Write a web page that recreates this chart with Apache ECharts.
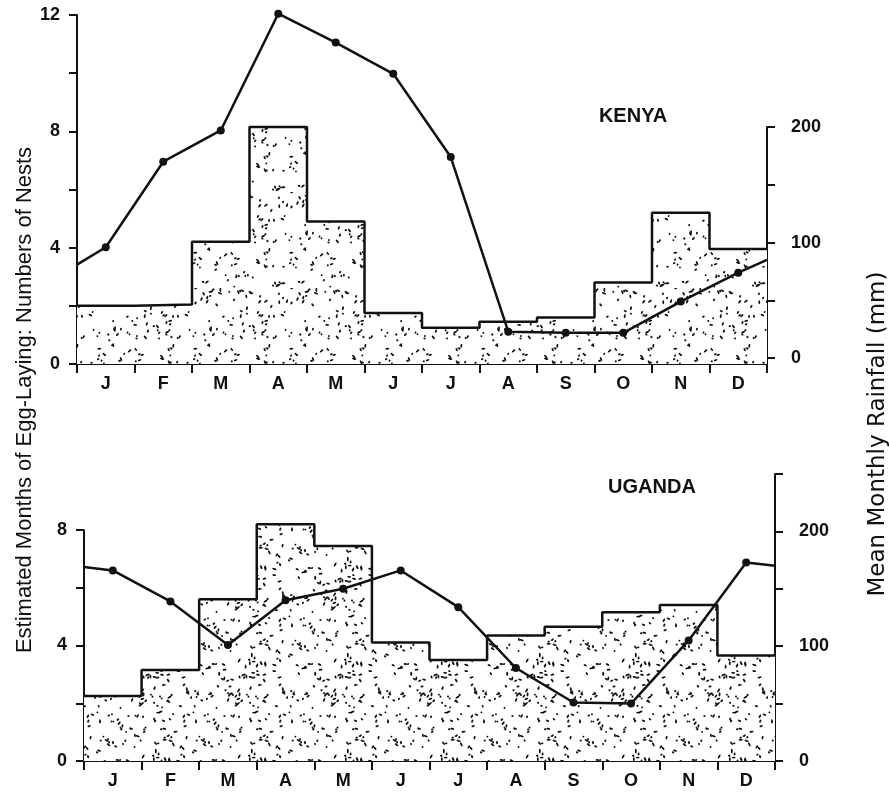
<!DOCTYPE html>
<html>
<head>
<meta charset="utf-8">
<script src="https://cdn.jsdelivr.net/npm/echarts@6/dist/echarts.min.js"></script>
<style>
  html, body { margin: 0; padding: 0; background: #fff; }
  #chart { width: 889px; height: 794px; }
</style>
</head>
<body>
<div id="chart"></div>
<script>
// ---- data ----
const months = ['J','F','M','A','M','J','J','A','S','O','N','D'];

// Estimated months of egg-laying (left axis)
const kenyaNests  = [2.0, 2.05, 4.2, 8.15, 4.9, 1.75, 1.25, 1.45, 1.6, 2.8, 5.2, 3.95];
const ugandaNests = [2.25, 3.15, 5.6, 8.2, 7.45, 4.1, 3.5, 4.35, 4.65, 5.15, 5.4, 3.65];

// Mean monthly rainfall, mm (right axis), at month centres
const kenyaRain  = [96, 170, 197, 298, 273, 246, 174, 23, 22, 22, 49, 74];
const ugandaRain = [166, 139, 101, 140, 150, 166, 134, 81, 51, 50, 105, 173];
// rainfall line where it meets the left and right axes
const kenyaRainEdges  = [81, 85];
const ugandaRainEdges = [169, 170];

// tick labels
const kenyaLeftLabels  = [0, 4, 8, 12];
const ugandaLeftLabels = [0, 4, 8];
const rightLabels      = [0, 100, 200];

// ---- helpers ----
function stepData(vals) {
  const d = vals.map((v, i) => [i, v]);
  d.push([vals.length, vals[vals.length - 1]]);
  return d;
}
function rainData(vals, edges) {
  const d = [{ value: [0, edges[0]], symbol: 'none' }];
  vals.forEach((v, i) => d.push([i + 0.5, v]));
  d.push({ value: [vals.length, edges[1]], symbol: 'none' });
  return d;
}
function makeStipple(count, seed) {
  const S = 96;
  const c = document.createElement('canvas');
  c.width = S; c.height = S;
  const ctx = c.getContext('2d');
  ctx.fillStyle = '#ffffff';
  ctx.fillRect(0, 0, S, S);
  let s = seed;
  const rnd = () => { s = (s * 16807) % 2147483647; return s / 2147483647; };
  ctx.fillStyle = '#111';
  for (let k = 0; k < count; k++) {
    const x = rnd() * S, y = rnd() * S, a = rnd() * Math.PI, len = 0.9 + rnd() * 1.4;
    ctx.save();
    ctx.translate(x, y);
    ctx.rotate(a);
    ctx.beginPath();
    ctx.ellipse(0, 0, len, 0.95, 0, 0, Math.PI * 2);
    ctx.fill();
    ctx.restore();
  }
  return c;
}
const stippleKenya = makeStipple(120, 20231);
const stippleUganda = makeStipple(150, 7741);

const FONT = "'Liberation Sans', Arial, Helvetica, sans-serif";
const black = '#111';
const axisLineStyle = { show: true, onZero: false, lineStyle: { color: black, width: 2 } };
const tickStyle = { show: true, length: 8, lineStyle: { color: black, width: 2 } };
const numLabel = { color: black, fontFamily: FONT, fontWeight: 'bold', fontSize: 18 };

function catX(grid) {
  return {
    type: 'category', gridIndex: grid, data: months, boundaryGap: true,
    axisLine: axisLineStyle,
    axisTick: { show: true, alignWithLabel: false, length: 9, lineStyle: { color: black, width: 2 } },
    axisLabel: { margin: 11, color: black, fontFamily: FONT, fontWeight: 'bold', fontSize: 18, interval: 0 },
    splitLine: { show: false }
  };
}
function hiddenX(grid, pos) {
  return { type: 'value', gridIndex: grid, min: 0, max: 12, show: false, position: pos, splitLine: { show: false } };
}

const option = {
  animation: false,
  backgroundColor: '#fff',
  textStyle: { fontFamily: FONT },
  grid: [
    { left: 77, top: 15,  width: 690, height: 349 },   // Kenya nests
    { left: 77, top: 127, width: 690, height: 237 },   // Kenya rainfall
    { left: 84, top: 530, width: 691, height: 231 },   // Uganda nests
    { left: 84, top: 474, width: 691, height: 287 }    // Uganda rainfall
  ],
  xAxis: [
    catX(0),
    hiddenX(0, 'top'),
    hiddenX(1, 'top'),
    catX(2),
    hiddenX(2, 'top'),
    hiddenX(3, 'top')
  ],
  yAxis: [
    { type: 'value', gridIndex: 0, position: 'left', min: 0, max: 12, interval: 2,
      axisLine: axisLineStyle, axisTick: tickStyle, splitLine: { show: false },
      axisLabel: Object.assign({ margin: 17, formatter: v => kenyaLeftLabels.includes(v) ? String(v) : '' }, numLabel) },
    { type: 'value', gridIndex: 1, position: 'right', min: -5, max: 200, interval: 50,
      axisLine: axisLineStyle,
      axisTick: Object.assign({ customValues: [0, 50, 100, 150, 200] }, tickStyle),
      splitLine: { show: false },
      axisLabel: Object.assign({ margin: 24, customValues: rightLabels }, numLabel) },
    { type: 'value', gridIndex: 2, position: 'left', min: 0, max: 8, interval: 2,
      axisLine: axisLineStyle, axisTick: tickStyle, splitLine: { show: false },
      axisLabel: Object.assign({ margin: 17, formatter: v => ugandaLeftLabels.includes(v) ? String(v) : '' }, numLabel) },
    { type: 'value', gridIndex: 3, position: 'right', min: 0, max: 250, interval: 50,
      axisLine: axisLineStyle, axisTick: tickStyle, splitLine: { show: false },
      axisLabel: Object.assign({ margin: 24, formatter: v => rightLabels.includes(v) ? String(v) : '' }, numLabel) }
  ],
  series: [
    { name: 'Kenya nests', type: 'line', xAxisIndex: 1, yAxisIndex: 0, step: 'end',
      data: stepData(kenyaNests), symbol: 'none', z: 2, clip: false,
      lineStyle: { color: black, width: 2.5 },
      areaStyle: { color: { image: stippleKenya, repeat: 'repeat' }, opacity: 1 } },
    { name: 'Kenya rainfall', type: 'line', xAxisIndex: 2, yAxisIndex: 1,
      data: rainData(kenyaRain, kenyaRainEdges), clip: false, z: 5,
      symbol: 'circle', symbolSize: 8, itemStyle: { color: black },
      lineStyle: { color: black, width: 2.5 } },
    { name: 'Uganda nests', type: 'line', xAxisIndex: 4, yAxisIndex: 2, step: 'end',
      data: stepData(ugandaNests), symbol: 'none', z: 2, clip: false,
      lineStyle: { color: black, width: 2.5 },
      areaStyle: { color: { image: stippleUganda, repeat: 'repeat' }, opacity: 1 } },
    { name: 'Uganda rainfall', type: 'line', xAxisIndex: 5, yAxisIndex: 3,
      data: rainData(ugandaRain, ugandaRainEdges), clip: false, z: 5,
      symbol: 'circle', symbolSize: 8, itemStyle: { color: black },
      lineStyle: { color: black, width: 2.5 } }
  ],
  graphic: [
    { type: 'text', x: 25, y: 400, rotation: Math.PI / 2,
      style: { text: 'Estimated Months of Egg-Laying: Numbers of Nests', fill: black,
               font: "22px 'Liberation Sans', Arial, sans-serif", textAlign: 'center', textVerticalAlign: 'middle' } },
    { type: 'text', x: 878, y: 434, rotation: Math.PI / 2,
      style: { text: 'Mean Monthly Rainfall (mm)', fill: black,
               font: "23px 'DejaVu Sans', sans-serif", textAlign: 'center', textVerticalAlign: 'middle' } },
    { type: 'text', x: 633, y: 116,
      style: { text: 'KENYA', fill: black, font: "bold 20px 'Liberation Sans', Arial, sans-serif",
               textAlign: 'center', textVerticalAlign: 'middle' } },
    { type: 'text', x: 652, y: 487,
      style: { text: 'UGANDA', fill: black, font: "bold 20px 'Liberation Sans', Arial, sans-serif",
               textAlign: 'center', textVerticalAlign: 'middle' } }
  ]
};

const chart = echarts.init(document.getElementById('chart'), null, { renderer: 'canvas' });
chart.setOption(option);
</script>
</body>
</html>
